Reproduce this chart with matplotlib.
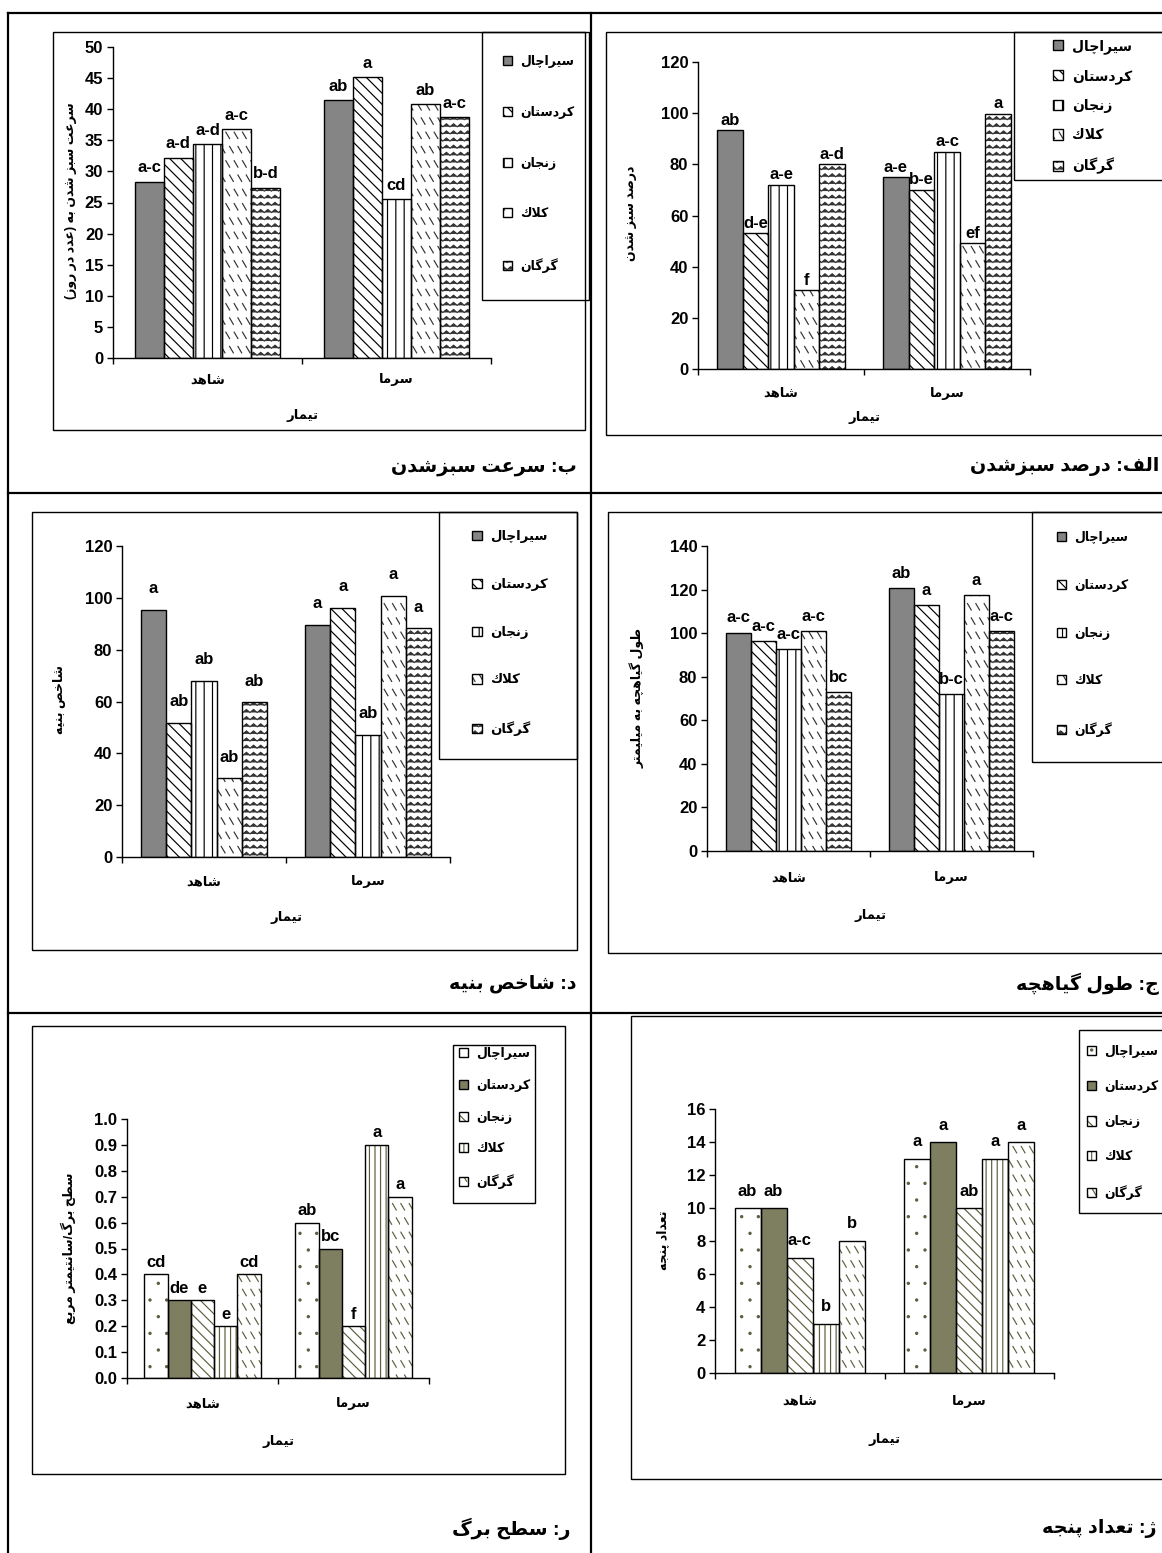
import unicodedata
import numpy as np
import matplotlib
matplotlib.use("Agg")
import matplotlib.pyplot as plt
import matplotlib.hatch as mhatch
from matplotlib.path import Path
from matplotlib.patches import Rectangle
from matplotlib.lines import Line2D
from matplotlib.transforms import blended_transform_factory
from matplotlib.legend_handler import HandlerTuple

# ---------------------------------------------------------------- data
cultivars = ['سیراچال', 'کردستان', 'زنجان', 'كلاك', 'گرگان']
treatments = ['شاهد', 'سرما']
xlabel_text = 'تیمار'

speed_control = [28.3, 32.2, 34.4, 36.8, 27.4]
speed_cold = [41.4, 45.1, 25.5, 40.8, 38.7]
speed_letters_control = ['a-c', 'a-d', 'a-d', 'a-c', 'b-d']
speed_letters_cold = ['ab', 'a', 'cd', 'ab', 'a-c']

pct_control = [93.3, 53.1, 72.0, 30.7, 80.1]
pct_cold = [75.0, 70.0, 85.0, 49.2, 99.8]
pct_letters_control = ['ab', 'd-e', 'a-e', 'f', 'a-d']
pct_letters_cold = ['a-e', 'b-e', 'a-c', 'ef', 'a']

vigor_control = [95.4, 51.8, 68.1, 30.3, 59.7]
vigor_cold = [89.7, 96.2, 47.1, 100.8, 88.3]
vigor_letters_control = ['a', 'ab', 'ab', 'ab', 'ab']
vigor_letters_cold = ['a', 'a', 'ab', 'a', 'a']

length_control = [100.2, 96.2, 92.5, 100.9, 72.8]
length_cold = [120.5, 112.7, 72.0, 117.5, 100.9]
length_letters_control = ['a-c', 'a-c', 'a-c', 'a-c', 'bc']
length_letters_cold = ['ab', 'a', 'b-c', 'a', 'a-c']

leaf_control = [0.4, 0.3, 0.3, 0.2, 0.4]
leaf_cold = [0.6, 0.5, 0.2, 0.9, 0.7]
leaf_letters_control = ['cd', 'de', 'e', 'e', 'cd']
leaf_letters_cold = ['ab', 'bc', 'f', 'a', 'a']

tiller_control = [10, 10, 7, 3, 8]
tiller_cold = [13, 14, 10, 13, 14]
tiller_letters_control = ['ab', 'ab', 'a-c', 'b', 'b']
tiller_letters_cold = ['a', 'a', 'ab', 'a', 'a']

speed_ticks = [0, 5, 10, 15, 20, 25, 30, 35, 40, 45, 50]
pct_ticks = [0, 20, 40, 60, 80, 100, 120]
vigor_ticks = [0, 20, 40, 60, 80, 100, 120]
length_ticks = [0, 20, 40, 60, 80, 100, 120, 140]
leaf_ticks = [0.0, 0.1, 0.2, 0.3, 0.4, 0.5, 0.6, 0.7, 0.8, 0.9, 1.0]
tiller_ticks = [0, 2, 4, 6, 8, 10, 12, 14, 16]

ylabel_speed = 'سرعت سبز شدن به (عدد در روز)'
ylabel_pct = 'درصد سبز شدن'
ylabel_vigor = 'شاخص بنیه'
ylabel_length = 'طول گیاهچه به میلیمتر'
ylabel_leaf = 'سطح برگ/سانتیمتر مربع'
ylabel_tiller = 'تعداد پنجه'

caption_speed = 'ب: سرعت سبزشدن'
caption_pct = 'الف: درصد سبزشدن'
caption_vigor = 'د: شاخص بنیه'
caption_length = 'ج: طول گیاهچه'
caption_leaf = 'ر: سطح برگ'
caption_tiller = 'ژ: تعداد پنجه'

# ------------------------------------------------ Persian shaping (no raqm)
_FORMS, _LIG = {}, {}
for _cp in list(range(0xFB50, 0xFE00)) + list(range(0xFE70, 0xFF00)):
    _d = unicodedata.decomposition(chr(_cp))
    if not _d.startswith('<'):
        continue
    _parts = _d.split()
    _tag = _parts[0].strip('<>')
    if _tag not in ('isolated', 'final', 'initial', 'medial'):
        continue
    _base = ''.join(chr(int(c, 16)) for c in _parts[1:])
    if len(_base) == 1:
        _FORMS.setdefault(_base, {}).setdefault(_tag, chr(_cp))
    elif len(_base) == 2 and _base[0] == '\u0644':
        _LIG.setdefault(_base, {}).setdefault(_tag, chr(_cp))


def _jn(c):
    f = _FORMS.get(c)
    return f is not None and 'initial' in f


def _jp(c):
    f = _FORMS.get(c)
    return f is not None and 'final' in f


def fa(text):
    out = []
    n = len(text)
    i = 0
    while i < n:
        c = text[i]
        pj = i > 0 and _jn(text[i - 1])
        if c == '\u0644' and i + 1 < n and (c + text[i + 1]) in _LIG:
            lig = _LIG[c + text[i + 1]]
            out.append(lig.get('final' if pj else 'isolated'))
            i += 2
            continue
        f = _FORMS.get(c)
        if f is None:
            out.append(c)
            i += 1
            continue
        nj = i + 1 < n and _jn(c) and _jp(text[i + 1])
        pj = pj and _jp(c)
        form = 'medial' if (pj and nj) else 'final' if pj else 'initial' if nj else 'isolated'
        out.append(f.get(form, f.get('isolated', c)))
        i += 1
    s = ''.join(reversed(out))
    mirror = {'(': ')', ')': '('}
    return ''.join(mirror.get(ch, ch) for ch in s)


# ------------------------------------------------ custom hatch patterns
class ZigZagHatch(mhatch.HatchPatternBase):
    def __init__(self, hatch, density):
        self.rows = int(hatch.count('O') * 14)
        self.teeth = self.rows
        self.num_vertices = self.rows * (2 * self.teeth + 1)

    def set_vertices_and_codes(self, vertices, codes):
        n = 2 * self.teeth + 1
        xs = np.linspace(0.0, 1.0, n)
        amp = 0.42 / self.rows
        for r in range(self.rows):
            y0 = (r + 0.25) / self.rows
            sl = slice(r * n, (r + 1) * n)
            vertices[sl, 0] = xs
            vertices[sl, 1] = y0 + amp * (np.arange(n) % 2)
            codes[sl] = Path.LINETO
            codes[r * n] = Path.MOVETO


class DashHatch(mhatch.HatchPatternBase):
    def __init__(self, hatch, density):
        k = hatch.count('*')
        self.rows = 7 * k
        self.cols = 12 * k
        self.num_vertices = self.rows * self.cols * 2

    def set_vertices_and_codes(self, vertices, codes):
        d = 0.45 / self.cols
        dy = 0.45 / self.rows
        idx = 0
        for r in range(self.rows):
            for c in range(self.cols):
                x0 = (c + 0.1 + (0.45 if r % 2 else 0.0)) / self.cols
                y0 = (r + 0.75) / self.rows
                vertices[idx] = (x0, y0)
                vertices[idx + 1] = (x0 + d, y0 - dy)
                codes[idx] = Path.MOVETO
                codes[idx + 1] = Path.LINETO
                idx += 2


class TinyDots(mhatch.SmallFilledCircles):
    size = 0.065


mhatch._hatch_types[:] = [mhatch.HorizontalHatch, mhatch.VerticalHatch,
                          mhatch.NorthEastHatch, mhatch.SouthEastHatch,
                          mhatch.SmallCircles, TinyDots,
                          ZigZagHatch, DashHatch]

# ------------------------------------------------ figure
W, H = 1162, 1553
plt.rcParams['font.family'] = ['Liberation Sans', 'DejaVu Sans']
plt.rcParams['font.weight'] = 'bold'
plt.rcParams['hatch.linewidth'] = 0.85
fig = plt.figure(figsize=(W / 100, H / 100), dpi=100)


def fx(px):
    return px / W


def fy(py):
    return 1 - py / H


OLIVE = '#5e5e3e'
top_styles = [
    dict(fc='#858585', hatch=None, hc='black'),
    dict(fc='white', hatch='\\\\\\', hc='black'),
    dict(fc='white', hatch='||', hc='black'),
    dict(fc='white', hatch='*', hc='#333333'),
    dict(fc='white', hatch='O', hc='#333333'),
]
bottom_styles = [
    dict(fc='white', hatch='.', hc=OLIVE),
    dict(fc='#7e7e60', hatch=None, hc=OLIVE),
    dict(fc='white', hatch='\\\\\\', hc=OLIVE),
    dict(fc='white', hatch='|||', hc=OLIVE),
    dict(fc='white', hatch='*', hc=OLIVE),
]

panels = [
    dict(ctrl=speed_control, cold=speed_cold, lc=speed_letters_control, lk=speed_letters_cold,
         ticks=speed_ticks, fmt='{:.0f}', ylabel=ylabel_speed, caption=caption_speed, styles=top_styles,
         ax=(113, 47, 491, 358), box=(53, 32, 585, 430), lbox=(482, 32, 589, 300),
         leg=(503, 62, 52), lfs=9, ylab=(71, 201), cat_y=380, xlab_y=415, cap=(577, 467), off=14),
    dict(ctrl=pct_control, cold=pct_cold, lc=pct_letters_control, lk=pct_letters_cold,
         ticks=pct_ticks, fmt='{:.0f}', ylabel=ylabel_pct, caption=caption_pct, styles=top_styles,
         ax=(698, 62, 1030, 369), box=(606, 32, 1170, 435), lbox=(1014, 32, 1170, 180),
         leg=(1053, 46, 29.3), lfs=10, ylab=(631, 213), cat_y=393, xlab_y=418, cap=(1159, 467), off=10),
    dict(ctrl=vigor_control, cold=vigor_cold, lc=vigor_letters_control, lk=vigor_letters_cold,
         ticks=vigor_ticks, fmt='{:.0f}', ylabel=ylabel_vigor, caption=caption_vigor, styles=top_styles,
         ax=(122, 546, 450, 857), box=(32, 512, 577, 950), lbox=(439, 512, 577, 759),
         leg=(472, 537, 49), lfs=9.5, ylab=(60, 700), cat_y=882, xlab_y=918, cap=(577, 984), off=21),
    dict(ctrl=length_control, cold=length_cold, lc=length_letters_control, lk=length_letters_cold,
         ticks=length_ticks, fmt='{:.0f}', ylabel=ylabel_length, caption=caption_length, styles=top_styles,
         ax=(707, 546, 1033, 851), box=(608, 512, 1170, 953), lbox=(1032, 512, 1170, 762),
         leg=(1057, 538, 49), lfs=9, ylab=(637, 698), cat_y=878, xlab_y=915, cap=(1159, 984), off=15),
    dict(ctrl=leaf_control, cold=leaf_cold, lc=leaf_letters_control, lk=leaf_letters_cold,
         ticks=leaf_ticks, fmt='{:.1f}', ylabel=ylabel_leaf, caption=caption_leaf, styles=bottom_styles,
         ax=(127, 1119, 429, 1378), box=(32, 1026, 565, 1474), lbox=(453, 1045, 535, 1203),
         leg=(459, 1054, 33), lfs=9, ylab=(68, 1248), cat_y=1404, xlab_y=1441, cap=(570, 1529), off=12),
    dict(ctrl=tiller_control, cold=tiller_cold, lc=tiller_letters_control, lk=tiller_letters_cold,
         ticks=tiller_ticks, fmt='{:.0f}', ylabel=ylabel_tiller, caption=caption_tiller, styles=bottom_styles,
         ax=(715, 1109, 1054, 1373), box=(631, 1016, 1170, 1479), lbox=(1079, 1030, 1170, 1213),
         leg=(1087, 1052, 36.2), lfs=9, ylab=(663, 1240), cat_y=1401, xlab_y=1440, cap=(1157, 1528), off=17),
]

NB = len(cultivars)
BW = (1 / 1.3) / NB
TICK_FS = 12
LETTER_FS = 12
ROW_H = 14.0

for p in panels:
    x0, yt, x1, yb = p['ax']
    ax = fig.add_axes([fx(x0), fy(yb), fx(x1) - fx(x0), fy(yt) - fy(yb)])
    ax.set_facecolor('none')
    ax.patch.set_visible(False)
    for s in ('top', 'right'):
        ax.spines[s].set_visible(False)
    for s in ('left', 'bottom'):
        ax.spines[s].set_linewidth(1.0)
    ax.set_xlim(-0.5, len(treatments) - 0.5)
    ax.set_ylim(p['ticks'][0], p['ticks'][-1])
    ax.set_yticks(p['ticks'])
    ax.set_yticklabels([p['fmt'].format(t) for t in p['ticks']], fontsize=TICK_FS, fontweight='bold')
    ax.set_xticks(np.arange(len(treatments) + 1) - 0.5)
    ax.set_xticklabels([])
    ax.tick_params(axis='both', direction='out', length=4, width=1, pad=3)

    series = [list(v) for v in zip(p['ctrl'], p['cold'])]
    letters = [list(v) for v in zip(p['lc'], p['lk'])]
    xs = np.arange(len(treatments))
    handles = []
    for i in range(NB):
        st = p['styles'][i]
        pos = xs + (i - (NB - 1) / 2) * BW
        fill = ax.bar(pos, series[i], BW, color=st['fc'], edgecolor=st['hc'],
                      linewidth=0, hatch=st['hatch'], zorder=2)
        edge = ax.bar(pos, series[i], BW, fill=False, edgecolor='black',
                      linewidth=1.0, zorder=3)
        handles.append((fill[0], edge[0]))
        for xp, v, t in zip(pos, series[i], letters[i]):
            ax.annotate(t, xy=(xp, v), xytext=(0, p['off'] * 0.72), textcoords='offset points',
                        ha='center', va='center', fontsize=LETTER_FS, fontweight='bold', zorder=4)

    tr = blended_transform_factory(ax.transData, fig.transFigure)
    for i, t in enumerate(treatments):
        ax.text(i, fy(p['cat_y']), fa(t), transform=tr, ha='center', va='center', fontsize=9.5)
    fig.text(fx((x0 + x1) / 2), fy(p['xlab_y']), fa(xlabel_text), ha='center', va='center', fontsize=9.5)
    fig.text(fx(p['ylab'][0]), fy(p['ylab'][1]), fa(p['ylabel']), rotation=90,
             ha='center', va='center', fontsize=9)

    # chart area frame and legend frame
    bx0, by0, bx1, by1 = p['box']
    fig.add_artist(Rectangle((fx(bx0), fy(by1)), fx(bx1) - fx(bx0), fy(by0) - fy(by1),
                             transform=fig.transFigure, fill=False, edgecolor='black', linewidth=1.0))
    lx0, ly0, lx1, ly1 = p['lbox']
    fig.add_artist(Rectangle((fx(lx0), fy(ly1)), fx(lx1) - fx(lx0), fy(ly0) - fy(ly1),
                             transform=fig.transFigure, fill=False, edgecolor='black', linewidth=1.0))

    sx, sy, sp = p['leg']
    fs_px = p['lfs'] * 100 / 72
    ax.legend(handles, [fa(c) for c in cultivars], loc='upper left',
              bbox_to_anchor=(fx(sx), fy(sy - ROW_H / 2)), bbox_transform=fig.transFigure,
              frameon=False, borderpad=0, borderaxespad=0, handlelength=0.75, handleheight=0.75,
              handletextpad=0.6, labelspacing=(sp - ROW_H) / fs_px, fontsize=p['lfs'],
              handler_map={tuple: HandlerTuple(ndivide=1)})

    fig.text(fx(p['cap'][0]), fy(p['cap'][1]), fa(p['caption']), ha='right', va='center',
             fontsize=13.8, fontweight='bold')

# page frame lines
for (xa, ya, xb, yb2) in [(8, 13, 1162, 13), (8, 13, 8, 1553), (591, 13, 591, 1553),
                          (8, 493, 1162, 493), (8, 1013, 1162, 1013)]:
    fig.add_artist(Line2D([fx(xa), fx(xb)], [fy(ya), fy(yb2)], transform=fig.transFigure,
                          color='black', linewidth=1.6))

fig.savefig('out.png', dpi=100)
